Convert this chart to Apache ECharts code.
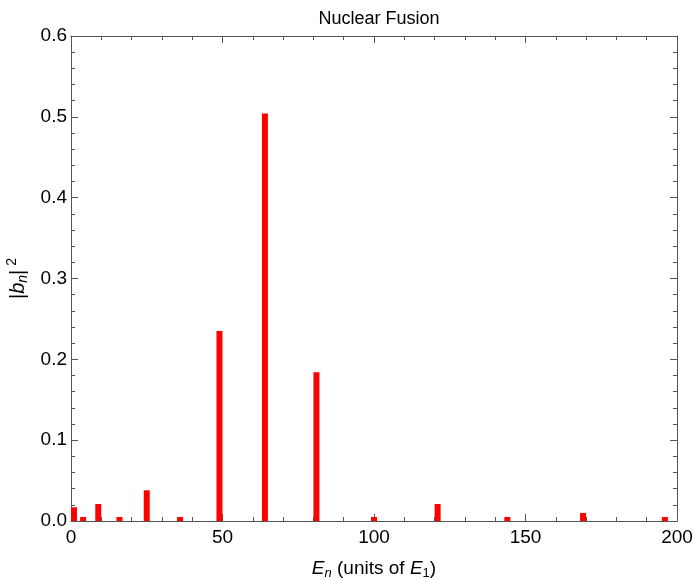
<!DOCTYPE html>
<html>
<head>
<meta charset="utf-8">
<script src="https://cdn.jsdelivr.net/npm/echarts@6/dist/echarts.min.js"></script>
<style>html,body{margin:0;padding:0;background:#fff}#c{width:695px;height:580px}</style>
</head>
<body>
<div id="c"></div>
<script>
// Energies E_n = n^2 (units of E_1)
const energies = [1, 4, 9, 16, 25, 36, 49, 64, 81, 100, 121, 144, 169, 196];
// |b_n|^2 values
const probabilities = [0.017, 0.005, 0.021, 0.005, 0.038, 0.005, 0.235, 0.504, 0.184, 0.005, 0.021, 0.005, 0.010, 0.005];
const xTicks = [0, 50, 100, 150, 200];
const yTicks = [0.0, 0.1, 0.2, 0.3, 0.4, 0.5, 0.6];

const font = '"Liberation Sans", Arial, Helvetica, sans-serif';
const lineCol = '#555';
const chart = echarts.init(document.getElementById('c'));

function axisCommon(show) {
  return {
    axisLine: {show: true, onZero: false, lineStyle: {color: lineCol, width: 1}},
    axisTick: {show: true, inside: true, length: 7, lineStyle: {color: lineCol}},
    minorTick: {show: true, splitNumber: 5, length: 4, lineStyle: {color: lineCol}},
    splitLine: {show: false},
    axisLabel: {show: show, color: '#000', fontFamily: font, fontSize: 19, margin: 7}
  };
}

chart.setOption({
  animation: false,
  title: {
    text: 'Nuclear Fusion', left: 374, top: 5, textAlign: 'center',
    textStyle: {fontFamily: font, fontSize: 18, fontWeight: 'normal', color: '#000'}
  },
  grid: {left: 71, right: 18, top: 36, bottom: 59, containLabel: false, outerBoundsMode: 'none'},
  xAxis: [
    Object.assign({
      type: 'value', min: xTicks[0], max: xTicks[xTicks.length - 1], interval: 50,
      position: 'bottom',
      name: '{i|E}{sub|n} (units of {i|E}{sub1|1})',
      nameLocation: 'middle', nameGap: 37,
      nameTextStyle: {
        fontFamily: font, fontSize: 19, color: '#000',
        rich: {
          i: {fontFamily: font, fontSize: 19, fontStyle: 'italic', color: '#000'},
          sub: {fontFamily: font, fontSize: 13, fontStyle: 'italic', color: '#000', padding: [9, 0, 0, 0]},
          sub1: {fontFamily: font, fontSize: 13, color: '#000', padding: [9, 0, 0, 0]}
        }
      }
    }, axisCommon(true)),
    Object.assign({
      type: 'value', min: xTicks[0], max: xTicks[xTicks.length - 1], interval: 50,
      position: 'top'
    }, axisCommon(false))
  ],
  yAxis: [
    Object.assign({
      type: 'value', min: yTicks[0], max: yTicks[yTicks.length - 1], interval: 0.1,
      position: 'left',
      name: '|{i|b}{sub|n}|{sup|2}',
      nameLocation: 'middle', nameGap: 38, nameRotate: 90,
      nameTextStyle: {
        fontFamily: font, fontSize: 20, color: '#000',
        rich: {
          i: {fontFamily: font, fontSize: 20, fontStyle: 'italic', color: '#000'},
          sub: {fontFamily: font, fontSize: 14, fontStyle: 'italic', color: '#000', padding: [9, 0, 0, 0]},
          sup: {fontFamily: font, fontSize: 14, color: '#000', padding: [0, 0, 12, 4]}
        }
      }
    }, axisCommon(true), {
      axisLabel: {show: true, color: '#000', fontFamily: font, fontSize: 19, margin: 4,
        formatter: v => v.toFixed(1)}
    }),
    Object.assign({
      type: 'value', min: yTicks[0], max: yTicks[yTicks.length - 1], interval: 0.1,
      position: 'right'
    }, axisCommon(false))
  ],
  series: [{
    type: 'bar',
    xAxisIndex: 0, yAxisIndex: 0,
    barWidth: 6,
    itemStyle: {color: '#ff0000'},
    data: energies.map((e, i) => [e, probabilities[i]])
  }]
});
</script>
</body>
</html>
